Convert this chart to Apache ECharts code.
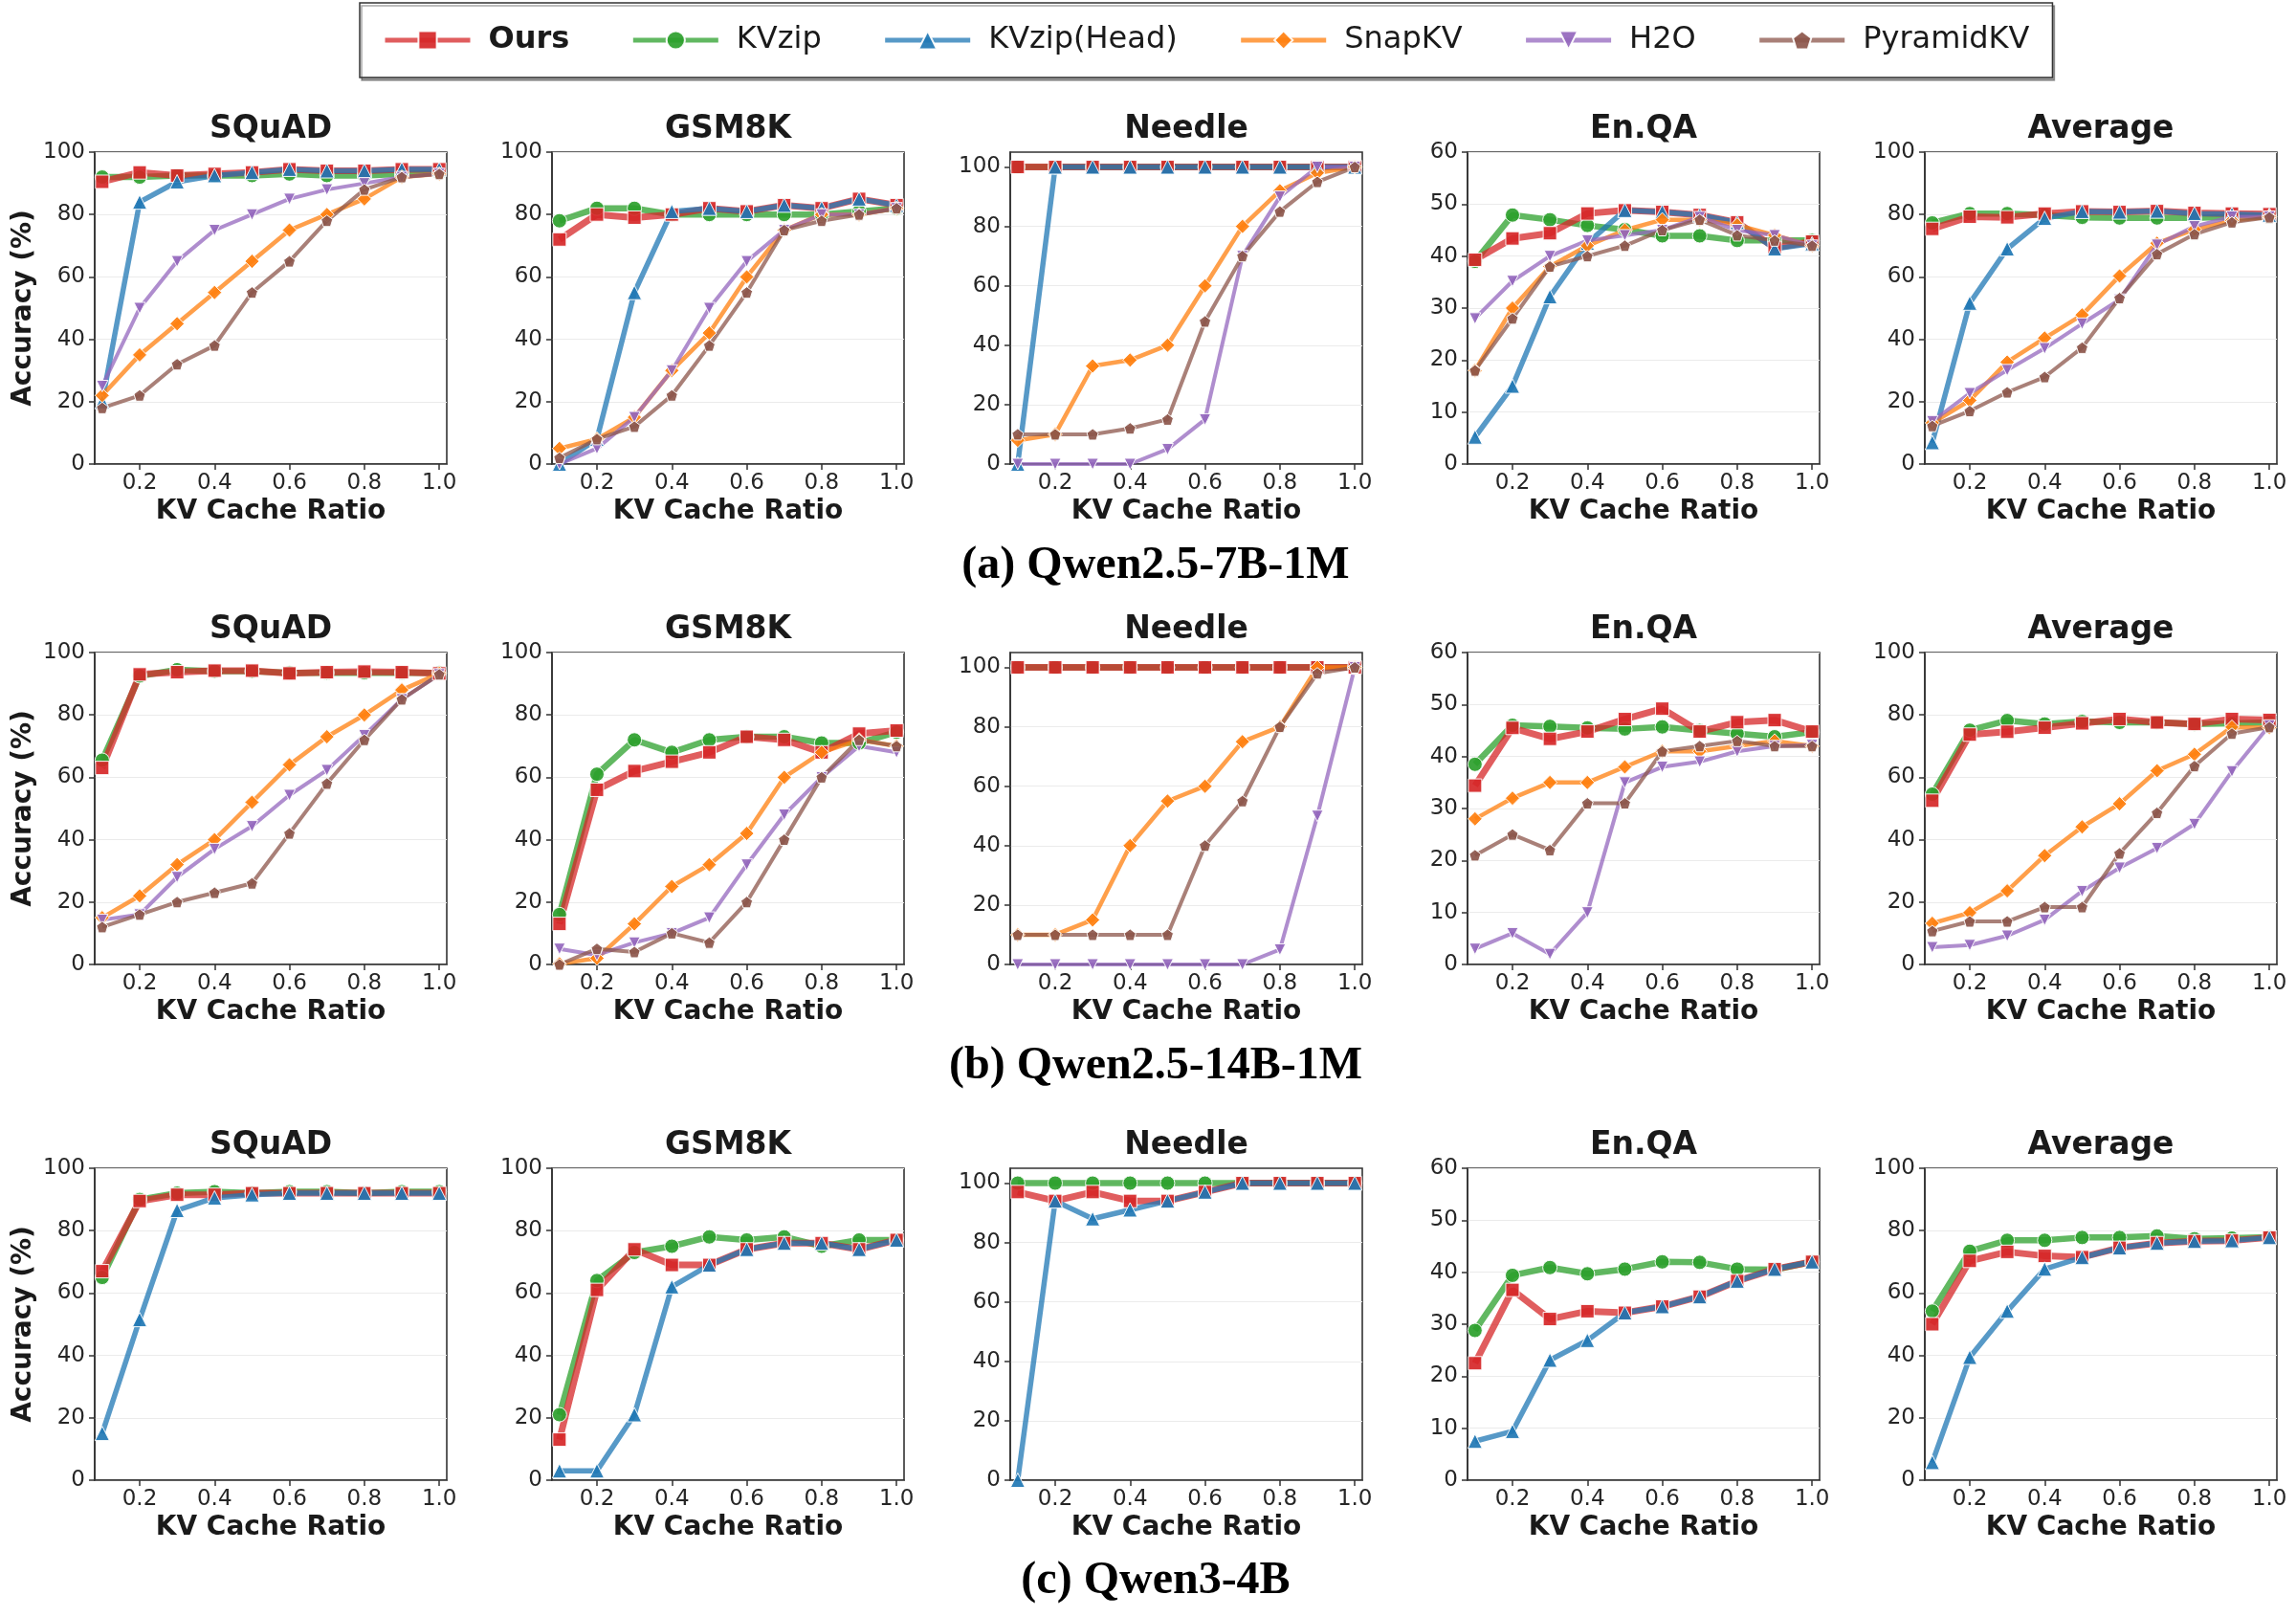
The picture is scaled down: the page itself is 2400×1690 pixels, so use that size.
<!DOCTYPE html>
<html>
<head>
<meta charset="utf-8">
<script src="https://cdn.jsdelivr.net/npm/echarts@6/dist/echarts.min.js"></script>
<style>
  html, body { margin: 0; background: #fff; }
  #chart { width: 2400px; height: 1690px; }
</style>
</head>
<body>
<div id="chart"></div>
<script>
// x values shared by every panel
const ratios = [0.1, 0.2, 0.3, 0.4, 0.5, 0.6, 0.7, 0.8, 0.9, 1.0];
const xTicks = [0.2, 0.4, 0.6, 0.8, 1.0];

const methods = ["Ours", "KVzip", "KVzip(Head)", "SnapKV", "H2O", "PyramidKV"];
const datasets = ["SQuAD", "GSM8K", "Needle", "En.QA", "Average"];
const models = ["(a) Qwen2.5-7B-1M", "(b) Qwen2.5-14B-1M", "(c) Qwen3-4B"];

// y axis per column
const yMax = [100, 100, 105, 60, 100];
const yStep = [20, 20, 20, 10, 20];

// rows in each panel follow `methods`; null = method not shown
// (a) Qwen2.5-7B-1M
const a_squad = [
  [90.5, 93.5, 92.5, 93, 93.5, 94.5, 94, 94, 94.5, 94.5],
  [92, 92, 92.5, 92.5, 92.5, 93, 92.5, 92.5, 93, 93.5],
  [20, 84, 90.5, 92.5, 93.5, 94.5, 94, 94, 94.5, 94.5],
  [22, 35, 45, 55, 65, 75, 80, 85, 92, 93],
  [25, 50, 65, 75, 80, 85, 88, 90, 92, 93],
  [18, 22, 32, 38, 55, 65, 78, 88, 92, 93],
];
const a_gsm8k = [
  [72, 80, 79, 80, 82, 81, 83, 82, 85, 83],
  [78, 82, 82, 80, 80, 80, 80, 80, 81, 82],
  [0, 8, 55, 81, 82, 81, 83, 82, 85, 83],
  [5, 8, 15, 30, 42, 60, 75, 80, 80, 82],
  [0, 5, 15, 30, 50, 65, 75, 80, 80, 82],
  [2, 8, 12, 22, 38, 55, 75, 78, 80, 82],
];
const a_needle = [
  [100, 100, 100, 100, 100, 100, 100, 100, 100, 100],
  [100, 100, 100, 100, 100, 100, 100, 100, 100, 100],
  [0, 100, 100, 100, 100, 100, 100, 100, 100, 100],
  [8, 10, 33, 35, 40, 60, 80, 92, 98, 100],
  [0, 0, 0, 0, 5, 15, 70, 90, 100, 100],
  [10, 10, 10, 12, 15, 48, 70, 85, 95, 100],
];
const a_enqa = [
  [39.3, 43.4, 44.4, 48.2, 48.8, 48.5, 47.9, 46.5, 41.6, 42.8],
  [39, 47.9, 47, 45.9, 45.1, 43.9, 43.9, 43, 43, 43],
  [5.2, 15, 32.2, 42.5, 48.8, 48.5, 47.9, 46.5, 41.4, 42.4],
  [18, 30, 38, 42, 45, 47, 47, 46, 44, 42],
  [28, 35.2, 40, 43, 44, 45, 47.5, 45, 44, 42],
  [18, 28, 38, 40, 42, 45, 47, 44, 43, 42],
];
const a_avg = [
  [75.4, 79.3, 79.1, 80.3, 81, 80.8, 81.1, 80.5, 80.3, 80.1],
  [77.3, 80.3, 80.3, 79.8, 79.1, 78.9, 78.9, 78.9, 79.3, 79.3],
  [6.9, 51.6, 69, 78.8, 81, 80.8, 81.1, 80.3, 80.1, 79.8],
  [13.2, 20.4, 32.7, 40.4, 47.8, 60.3, 70.8, 75.2, 78.1, 79.3],
  [13.7, 22.7, 30.1, 37.1, 45, 52.7, 70.3, 76.2, 79.3, 79.3],
  [12.2, 17, 23, 27.9, 37.3, 53.2, 67.3, 73.7, 77.5, 79.1],
];

// (b) Qwen2.5-14B-1M
const b_squad = [
  [63, 93, 93.7, 94.2, 94.2, 93.3, 93.7, 93.9, 93.7, 93.3],
  [65.5, 92.5, 94.5, 94, 94, 93.5, 93.5, 93.5, 93.5, 93.5],
  null,
  [15, 22, 32, 40, 52, 64, 73, 80, 88, 93.3],
  [14.3, 16, 28, 37, 44.3, 54.3, 62.3, 73.5, 85, 93],
  [12, 16, 20, 23, 26, 42, 58, 72, 85, 93],
];
const b_gsm8k = [
  [13, 56, 62, 65, 68, 73, 72, 68, 74, 75],
  [16, 61, 72, 68, 72, 73, 73, 71, 71, 74.5],
  null,
  [0.2, 2, 13, 25, 32, 42, 60, 68, 72, 70],
  [5, 3, 7, 10, 15, 32, 48, 60, 70, 68],
  [0, 5, 4, 10, 7, 20, 40, 60, 72, 70],
];
const b_needle = [
  [100, 100, 100, 100, 100, 100, 100, 100, 100, 100],
  [100, 100, 100, 100, 100, 100, 100, 100, 100, 100],
  null,
  [10, 10, 15, 40, 55, 60, 75, 80, 100, 100],
  [0, 0, 0, 0, 0, 0, 0, 5, 50, 100],
  [10, 10, 10, 10, 10, 40, 55, 80, 98, 100],
];
const b_enqa = [
  [34.4, 45.5, 43.4, 44.8, 47.2, 49.2, 44.8, 46.6, 47, 44.8],
  [38.5, 46, 45.8, 45.5, 45.3, 45.7, 45, 44.4, 43.8, 44.7],
  null,
  [28, 32, 35, 35, 38, 41, 41, 42, 43, 42],
  [3, 6, 2, 10, 35, 38, 39, 41, 42, 42.2],
  [21, 25, 22, 31, 31, 41, 42, 43, 42, 42],
];
const b_avg = [
  [52.5, 73.7, 74.6, 75.9, 77.3, 78.7, 77.6, 77.1, 78.7, 78.4],
  [54.6, 75.1, 78.2, 77.1, 77.9, 77.6, 77.6, 77.1, 77.3, 77.6],
  null,
  [13.2, 16.6, 23.6, 34.9, 44.1, 51.5, 62.1, 67.4, 76.1, 75.9],
  [5.5, 6.2, 9.2, 14.3, 23.5, 31, 37.3, 45, 61.9, 76.6],
  [10.7, 13.8, 13.8, 18.4, 18.4, 35.6, 48.6, 63.6, 74, 76.1],
];

// (c) Qwen3-4B
const c_squad = [
  [67, 89.5, 91.5, 91.5, 92, 92, 92, 92, 92, 92],
  [65, 90, 92, 92.5, 92, 92.5, 92.5, 92, 92.5, 92.5],
  [15, 51.5, 86.5, 90.5, 91.5, 92, 92, 92, 92, 92],
];
const c_gsm8k = [
  [13, 61, 74, 69, 69, 74, 76, 76, 74, 77],
  [21, 64, 73, 75, 78, 77, 78, 75, 77, 77],
  [3, 3, 21, 62, 69, 74, 76, 76, 74, 77],
];
const c_needle = [
  [97, 94, 97, 94, 94, 97, 100, 100, 100, 100],
  [100, 100, 100, 100, 100, 100, 100, 100, 100, 100],
  [0, 94, 88, 91, 94, 97, 100, 100, 100, 100],
];
const c_enqa = [
  [22.5, 36.6, 31, 32.5, 32.2, 33.4, 35.3, 38.3, 40.6, 42],
  [28.8, 39.4, 40.9, 39.7, 40.6, 42, 41.9, 40.6, 40.5, 42],
  [7.5, 9.4, 23.1, 26.9, 32.2, 33.4, 35.3, 38.3, 40.6, 42],
];
const c_avg = [
  [50, 70.3, 73.2, 71.9, 71.5, 74.5, 76, 76.6, 76.8, 77.8],
  [54.2, 73.4, 76.9, 76.9, 77.8, 77.8, 78.3, 77.4, 77.6, 77.9],
  [5.7, 39.4, 54.2, 67.7, 71.4, 74.5, 76, 76.6, 76.8, 77.8],
];

const panels = [
  [a_squad, a_gsm8k, a_needle, a_enqa, a_avg],
  [b_squad, b_gsm8k, b_needle, b_enqa, b_avg],
  [c_squad, c_gsm8k, c_needle, c_enqa, c_avg],
];

// layout (px)
const GRID_LEFT = [99, 577, 1056, 1534, 2012];
const GRID_W = 368;
const GRID_TOP = [159, 682, 1221];
const GRID_H = 326;
const SUB_Y = [592, 1115, 1653];

const FONT = "'DejaVu Sans', Verdana, sans-serif";
const INK = "#1a1a1a";
const PENTAGON = "path://M0,-1L0.951,-0.309L0.588,0.809L-0.588,0.809L-0.951,-0.309Z";

const styles = {
  "Ours":        { color: "#d62728", symbol: "rect", size: 14, width: 7, rotate: 0 },
  "KVzip":       { color: "#2ca02c", symbol: "circle", size: 15, width: 6.5, rotate: 0 },
  "KVzip(Head)": { color: "#1f77b4", symbol: "triangle", size: 15, width: 5.5, rotate: 0 },
  "SnapKV":      { color: "#ff7f0e", symbol: "diamond", size: 15, width: 4.5, rotate: 0 },
  "H2O":         { color: "#9467bd", symbol: "triangle", size: 12, width: 4, rotate: 180 },
  "PyramidKV":   { color: "#8c564b", symbol: PENTAGON, size: 12, width: 4, rotate: 0 },
};
// KVzip sits under Ours, the rest on top
const drawOrder = [1, 0, 2, 3, 4, 5];

const grids = [];
const xAxes = [];
const yAxes = [];
const series = [];
const graphics = [];

panels.forEach((row, r) => {
  row.forEach((rows, c) => {
    const idx = grids.length;
    const ticks = [];
    for (let v = 0; v <= yMax[c]; v += yStep[c]) ticks.push(v);

    grids.push({
      left: GRID_LEFT[c], top: GRID_TOP[r], width: GRID_W, height: GRID_H,
      show: true, borderColor: "#333", borderWidth: 1.6,
    });

    xAxes.push({
      gridIndex: idx, type: "value", min: 0.08, max: 1.02,
      name: "KV Cache Ratio", nameLocation: "middle", nameGap: 36,
      nameTextStyle: { fontSize: 28, fontWeight: "bold", fontFamily: FONT, color: INK },
      axisLine: { show: true, lineStyle: { color: "#333", width: 1.6 } },
      axisTick: { show: true, customValues: xTicks, length: 6, lineStyle: { color: "#333", width: 1.5 } },
      axisLabel: {
        customValues: xTicks, margin: 9, fontSize: 23, fontFamily: FONT, color: "#262626",
        formatter: (v) => v.toFixed(1),
      },
      splitLine: { show: false },
    });

    yAxes.push({
      gridIndex: idx, type: "value", min: 0, max: yMax[c], interval: yStep[c],
      name: c === 0 ? "Accuracy (%)" : "", nameLocation: "middle", nameGap: 60, nameRotate: 90,
      nameTextStyle: { fontSize: 28, fontWeight: "bold", fontFamily: FONT, color: INK },
      axisLine: { show: true, lineStyle: { color: "#333", width: 1.6 } },
      axisTick: { show: true, customValues: ticks, length: 6, lineStyle: { color: "#333", width: 1.5 } },
      axisLabel: { customValues: ticks, margin: 10, fontSize: 23, fontFamily: FONT, color: "#262626" },
      splitLine: { show: true, lineStyle: { color: "#ebebeb", width: 1.2 } },
    });

    drawOrder.forEach((m) => {
      const vals = rows[m];
      if (!vals) return;
      const name = methods[m];
      const s = styles[name];
      series.push({
        type: "line", name,
        xAxisIndex: idx, yAxisIndex: idx,
        data: ratios.map((x, k) => [x, vals[k]]),
        symbol: s.symbol, symbolSize: s.size, symbolRotate: s.rotate,
        showAllSymbol: true,
        lineStyle: { color: s.color, width: s.width, opacity: 0.75 },
        itemStyle: { color: s.color, borderColor: "#fff", borderWidth: 1, opacity: 0.92 },
        emphasis: { disabled: true },
      });
    });

    graphics.push({
      type: "text", x: GRID_LEFT[c] + GRID_W / 2, y: GRID_TOP[r] - 24,
      style: {
        text: datasets[c], font: "bold 33px " + FONT, fill: INK,
        align: "center", verticalAlign: "middle", textAlign: "center", textVerticalAlign: "middle",
      },
    });
  });

  graphics.push({
    type: "text", x: 1208, y: SUB_Y[r],
    style: {
      text: models[r], font: "bold 48px 'Liberation Serif', 'Times New Roman', serif", fill: "#000",
      align: "center", verticalAlign: "middle", textAlign: "center", textVerticalAlign: "middle",
    },
  });
});

const chart = echarts.init(document.getElementById("chart"), null, { renderer: "canvas" });
chart.setOption({
  backgroundColor: "#fff",
  animation: false,
  legend: {
    data: methods,
    left: 376, top: 3,
    padding: [23, 24],
    itemWidth: 89, itemHeight: 24, itemGap: 64,
    borderColor: "#333", borderWidth: 1.5,
    shadowColor: "rgba(0,0,0,0.35)", shadowOffsetX: 2, shadowOffsetY: 3, shadowBlur: 0,
    backgroundColor: "#fff",
    selectedMode: false,
    lineStyle: { width: 5 },
    textStyle: {
      fontSize: 32, fontFamily: FONT, color: INK, padding: [0, 0, 0, 14],
      rich: { b: { fontSize: 32, fontFamily: FONT, fontWeight: "bold", color: INK } },
    },
    formatter: (name) => (name === "Ours" ? "{b|Ours}" : name),
  },
  grid: grids,
  xAxis: xAxes,
  yAxis: yAxes,
  series,
  graphic: graphics,
});
</script>
</body>
</html>
